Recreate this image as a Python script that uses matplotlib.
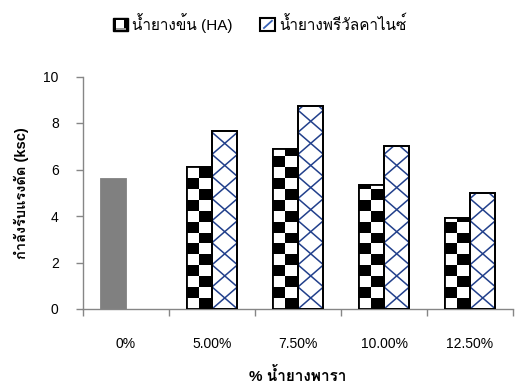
import matplotlib
matplotlib.use("Agg")
from matplotlib import pyplot as plt
from matplotlib.patches import Rectangle, Patch
from matplotlib.lines import Line2D
from matplotlib.legend_handler import HandlerPatch
import numpy as np

plt.rcParams["font.family"] = ["Liberation Sans", "Loma"]

categories = ["0%", "5.00%", "7.50%", "10.00%", "12.50%"]
ha_values = [5.6, 6.1, 6.9, 5.35, 3.9]
prevulc_values = [None, 7.65, 8.75, 7.0, 5.0]
series_names = ["น้ำยางข้น (HA)", "น้ำยางพรีวัลคาไนซ์"]

axis_grey = "#868686"
navy = "#22408C"
bar_w = 0.296
cell_h = 0.47       # checker square height, y units
trellis_p = 0.95    # trellis diamond height, y units


def checker_fill(ax, bar):
    # black/white squares, two per row, clipped to the bar outline
    x0, w, h = bar.get_x(), bar.get_width(), bar.get_height()
    rows = int(np.ceil(h / cell_h))
    for r in range(rows):
        for c in range(2):
            color = "black" if (r + c) % 2 == 1 else "white"
            sq = Rectangle((x0 + c * w / 2, r * cell_h), w / 2, cell_h,
                           facecolor=color, edgecolor="none", zorder=2)
            ax.add_patch(sq)
            sq.set_clip_path(bar)


def trellis_fill(ax, bar):
    # crossing diagonals, one diamond across the bar width
    x0, w, h = bar.get_x(), bar.get_width(), bar.get_height()
    n = int(np.ceil(h / trellis_p)) + 2
    for k in range(-1, n):
        y = k * trellis_p
        for dy in (trellis_p, -trellis_p):
            ln = Line2D([x0, x0 + w], [y, y + dy], color=navy, lw=1.1, zorder=2)
            ax.add_line(ln)
            ln.set_clip_path(bar)


class CheckerHandler(HandlerPatch):
    def create_artists(self, legend, orig_handle, xdescent, ydescent,
                       width, height, fontsize, trans):
        x0, y0 = -xdescent, -ydescent
        box = Rectangle((x0, y0), width, height, facecolor="black",
                        edgecolor="black", lw=1, transform=trans)
        inner = Rectangle((x0 + 0.18 * width, y0 + 0.28 * height), 0.55 * width, 0.55 * height,
                          facecolor="white", edgecolor="none", transform=trans)
        strip = Rectangle((x0 + 0.18 * width, y0 + 0.12 * height), 0.7 * width, 0.1 * height,
                          facecolor="#9a9a9a", edgecolor="none", transform=trans)
        return [box, inner, strip]


class TrellisHandler(HandlerPatch):
    def create_artists(self, legend, orig_handle, xdescent, ydescent,
                       width, height, fontsize, trans):
        x0, y0 = -xdescent, -ydescent
        box = Rectangle((x0, y0), width, height, facecolor="white",
                        edgecolor="black", lw=1.5, transform=trans)
        stroke = Line2D([x0 + 0.25 * width, x0 + 0.8 * width],
                        [y0 + 0.25 * height, y0 + 0.8 * height],
                        color="#3a64b8", lw=1.3, transform=trans)
        return [box, stroke]


fig = plt.figure(figsize=(5.15, 3.87), dpi=100)
ax = fig.add_axes([83 / 515, 78 / 387, 430 / 515, 232.5 / 387])

x = np.arange(len(categories))

ha_bars = ax.bar(x - bar_w / 2, ha_values, bar_w, facecolor="white",
                 edgecolor="black", lw=1.3, zorder=1)
# the 0% sample has no latex in it, shown as a plain grey bar
ha_bars[0].set_facecolor("#808080")
ha_bars[0].set_edgecolor("#808080")
for b in ha_bars[1:]:
    checker_fill(ax, b)
    outline = Rectangle((b.get_x(), 0), b.get_width(), b.get_height(),
                        facecolor="none", edgecolor="black", lw=1.3, zorder=3)
    ax.add_patch(outline)

pv_x = [xi + bar_w / 2 for xi, v in zip(x, prevulc_values) if v is not None]
pv_y = [v for v in prevulc_values if v is not None]
pv_bars = ax.bar(pv_x, pv_y, bar_w, facecolor="white", edgecolor="black",
                 lw=1.3, zorder=1)
for b in pv_bars:
    trellis_fill(ax, b)
    outline = Rectangle((b.get_x(), 0), b.get_width(), b.get_height(),
                        facecolor="none", edgecolor="black", lw=1.3, zorder=3)
    ax.add_patch(outline)

ax.set_xlim(-0.5, len(categories) - 0.5)
ax.set_ylim(0, 10)
ax.set_yticks(range(0, 11, 2))
ax.set_xticks(x)
ax.set_xticklabels(categories)
ax.set_xticks(np.arange(-0.5, len(categories)), minor=True)
ax.tick_params(axis="x", which="major", length=0, pad=20, labelsize=10)
ax.tick_params(axis="x", which="minor", length=5, color=axis_grey, width=1)
ax.tick_params(axis="y", length=5, color=axis_grey, width=1, pad=12.5, labelsize=10)

for side in ["top", "right"]:
    ax.spines[side].set_visible(False)
for side in ["left", "bottom"]:
    ax.spines[side].set_color(axis_grey)
    ax.spines[side].set_linewidth(1)

ax.set_ylabel("กำลังรับแรงดัด (ksc)", fontweight="bold", fontsize=10.5, labelpad=10)
ax.set_xlabel("% น้ำยางพารา", fontweight="bold", fontsize=11, labelpad=12)

h1 = Patch(facecolor="white", edgecolor="black")
h2 = Patch(facecolor="white", edgecolor="black")
leg = fig.legend([h1, h2], series_names, loc="center", bbox_to_anchor=(260 / 515, 1 - 23 / 387),
                 ncol=2, frameon=False, fontsize=11, handlelength=0.95, handleheight=0.95,
                 handletextpad=0.3, columnspacing=1.8,
                 handler_map={h1: CheckerHandler(), h2: TrellisHandler()})

fig.savefig("out.png")
